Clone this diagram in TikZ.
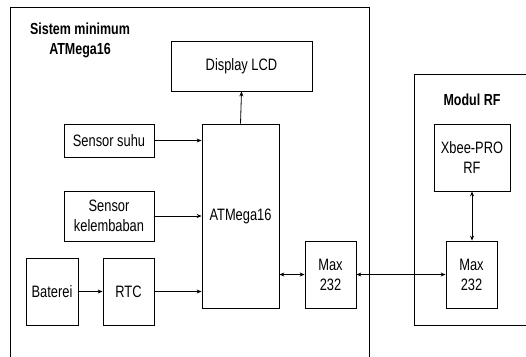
\documentclass[tikz,border=0pt]{standalone}
\usepackage{fontspec}
\setmainfont{Liberation Sans}[FakeStretch=0.78]
\usetikzlibrary{arrows.meta}
\begin{document}
\begin{tikzpicture}[x=1pt,y=-1pt,
  line width=0.8pt,
  every node/.style={font=\fontsize{16.5}{20}\selectfont},
  blk/.style={draw, rectangle, inner sep=0pt, align=center},
  conn/.style={-{Stealth[length=5pt,width=4pt]}},
  bconn/.style={{Stealth[length=5pt,width=4pt]}-{Stealth[length=5pt,width=4pt]}},
  ttl/.style={font=\fontsize{16}{20}\selectfont\bfseries, align=center}]
\useasboundingbox (0,0) rectangle (526,356);
% frames
\coordinate (f1a) at (10.7,357);
\coordinate (f1b) at (10.7,7);
\coordinate (f1c) at (369,7);
\coordinate (f1d) at (369,357);
\draw (f1a) -- (f1b) -- (f1c) -- (f1d);
\coordinate (f2a) at (530,74);
\coordinate (f2b) at (414,74);
\coordinate (f2c) at (414,325);
\coordinate (f2d) at (530,325);
\draw (f2a) -- (f2b) -- (f2c) -- (f2d);
% titles
\node[ttl] (t1) at (80,40) {Sistem minimum\\ATMega16};
\node[ttl] (t2) at (472,100) {Modul RF};
% blocks
\node[blk, minimum width=141, minimum height=50] (lcd) at (241.5,66) {Display LCD};
\node[blk, minimum width=77, minimum height=184] (mcu) at (240.5,216) {ATMega16};
\node[blk, minimum width=90, minimum height=33] (suhu) at (109,140.5) {Sensor suhu};
\node[blk, minimum width=90, minimum height=50] (kel) at (109,216) {Sensor\\kelembaban};
\node[blk, minimum width=52, minimum height=67] (bat) at (52,291.5) {Baterei};
\node[blk, minimum width=51, minimum height=67] (rtc) at (128.5,291.5) {RTC};
\node[blk, minimum width=51, minimum height=67] (maxl) at (330.5,274.5) {Max\\232};
\node[blk, minimum width=51, minimum height=67] (maxr) at (471.5,274.5) {Max\\232};
\node[blk, minimum width=76, minimum height=67] (xbee) at (472,157.5) {Xbee-PRO\\RF};
% connectors
\draw[conn] (mcu.north) -- (lcd.south);
\draw[conn] (suhu.east) -- (mcu.west |- suhu.east);
\draw[conn] (kel.east) -- (mcu.west |- kel.east);
\draw[conn] (bat.east) -- (rtc.west);
\draw[conn] (rtc.east) -- (mcu.west |- rtc.east);
\draw[bconn] (mcu.east |- maxl.west) -- (maxl.west);
\draw[bconn] (maxl.east) -- (maxr.west);
\draw[bconn] (xbee.south) -- (xbee.south |- maxr.north);
\end{tikzpicture}
\end{document}
